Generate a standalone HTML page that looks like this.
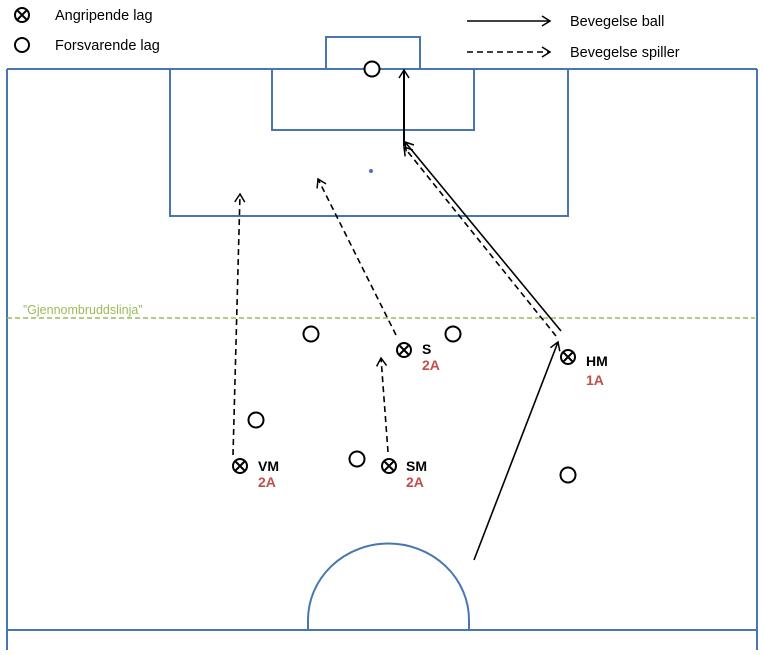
<!DOCTYPE html>
<html><head><meta charset="utf-8"><style>
html,body{margin:0;padding:0;background:#fff;width:763px;height:655px;overflow:hidden}
svg{display:block}
text{font-family:"Liberation Sans",sans-serif}
</style></head><body>
<svg width="763" height="655" viewBox="0 0 763 655" xmlns="http://www.w3.org/2000/svg">
<defs>
<marker id="ah" markerWidth="12" markerHeight="12" refX="10" refY="6" orient="auto" markerUnits="userSpaceOnUse">
<path d="M2,1 L10,6 L2,11" fill="none" stroke="#000" stroke-width="1.5"/>
</marker>
</defs>
<g fill="none" stroke="#4a76b0" stroke-width="2">
<line x1="7" y1="69" x2="757" y2="69"/>
<line x1="7" y1="69" x2="7" y2="650"/>
<line x1="757" y1="69" x2="757" y2="650"/>
<line x1="7" y1="630" x2="757" y2="630"/>
<rect x="170" y="69" width="398" height="147"/>
<rect x="272" y="69" width="202" height="61"/>
<rect x="326" y="37" width="94" height="32" fill="#fff"/>
<path d="M308,630 L308,620 A80,76 0 0 1 469,620 L469,630"/>
</g>
<circle cx="371" cy="171" r="2" fill="#4a76b0"/>
<line x1="7" y1="318" x2="755" y2="318" stroke="#9bbb59" stroke-width="1.5" stroke-dasharray="5,3"/>
<text x="23" y="314" font-size="12.5" fill="#9bbb59">”Gjennombruddslinja”</text>

<g stroke="#000" stroke-width="1.6" fill="none">
<line x1="467" y1="21" x2="550" y2="21" marker-end="url(#ah)"/>
<line x1="467" y1="52" x2="550" y2="52" stroke-dasharray="6,4" marker-end="url(#ah)"/>
<line x1="474" y1="560" x2="558" y2="342" marker-end="url(#ah)"/>
<line x1="561" y1="331" x2="405" y2="142" marker-end="url(#ah)"/>
<line x1="556" y1="336" x2="404" y2="147" stroke-dasharray="6,4" marker-end="url(#ah)"/>
<line x1="404" y1="146" x2="404" y2="70" stroke-width="2" marker-end="url(#ah)"/>
<line x1="233" y1="455" x2="240" y2="194" stroke-dasharray="6,4" marker-end="url(#ah)"/>
<line x1="396" y1="335" x2="318" y2="179" stroke-dasharray="6,4" marker-end="url(#ah)"/>
<line x1="388" y1="452" x2="381" y2="358" stroke-dasharray="6,4" marker-end="url(#ah)"/>
</g>

<g stroke="#000" stroke-width="2" fill="#fff">
<circle cx="372" cy="69" r="7.5"/>
<circle cx="311" cy="334" r="7.5"/>
<circle cx="453" cy="334" r="7.5"/>
<circle cx="256" cy="420" r="7.5"/>
<circle cx="357" cy="459" r="7.5"/>
<circle cx="568" cy="475" r="7.5"/>
<circle cx="22" cy="45" r="7"/>
</g>
<g stroke="#000" stroke-width="2" fill="#fff">
<g transform="translate(22,15)"><circle r="7"/><path d="M-5,-5L5,5M5,-5L-5,5"/></g>
<g transform="translate(240,466)"><circle r="7"/><path d="M-5,-5L5,5M5,-5L-5,5"/></g>
<g transform="translate(389,466)"><circle r="7"/><path d="M-5,-5L5,5M5,-5L-5,5"/></g>
<g transform="translate(404,350)"><circle r="7"/><path d="M-5,-5L5,5M5,-5L-5,5"/></g>
<g transform="translate(568,357)"><circle r="7"/><path d="M-5,-5L5,5M5,-5L-5,5"/></g>
</g>

<g font-size="14.5" fill="#000">
<text x="55" y="20">Angripende lag</text>
<text x="55" y="50">Forsvarende lag</text>
<text x="570" y="26">Bevegelse ball</text>
<text x="570" y="57">Bevegelse spiller</text>
</g>
<g font-size="14" font-weight="bold">
<text x="258" y="471" fill="#000">VM</text><text x="258" y="487" fill="#c0504d">2A</text>
<text x="406" y="471" fill="#000">SM</text><text x="406" y="487" fill="#c0504d">2A</text>
<text x="422" y="354" fill="#000">S</text><text x="422" y="370" fill="#c0504d">2A</text>
<text x="586" y="366" fill="#000">HM</text><text x="586" y="385" fill="#c0504d">1A</text>
</g>
</svg>
</body></html>
